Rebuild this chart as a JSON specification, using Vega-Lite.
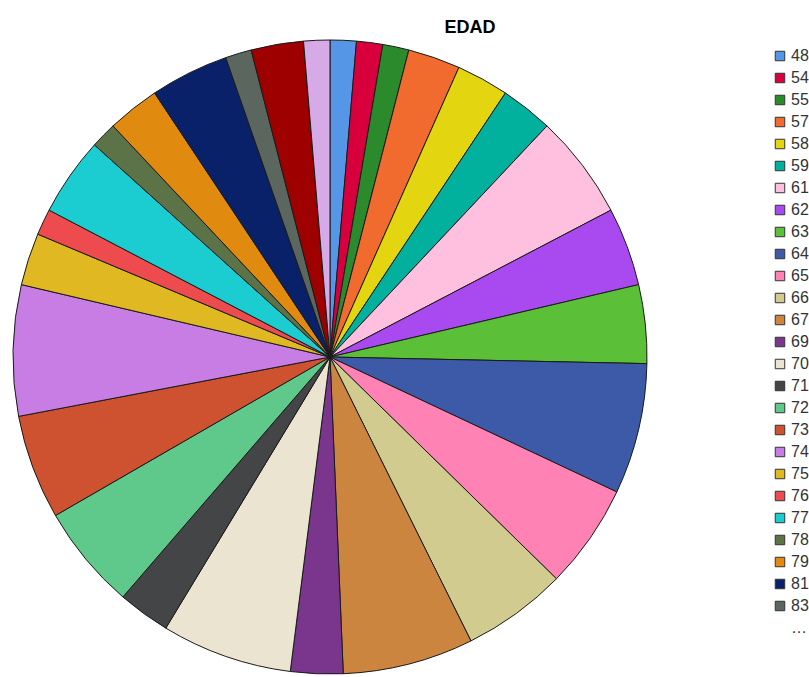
{
  "$schema": "https://vega.github.io/schema/vega-lite/v6.json",
  "width": 660,
  "height": 640,
  "autosize": {"type": "none"},
  "padding": {"left": 0, "top": 37, "right": 149, "bottom": 0},
  "background": "white",
  "title": {
    "text": "EDAD",
    "anchor": "middle",
    "frame": "group",
    "dx": 140,
    "offset": -14,
    "baseline": "alphabetic",
    "font": "Liberation Sans",
    "fontSize": 18,
    "fontWeight": "bold",
    "color": "#000000"
  },
  "data": {
    "values": [
      {"edad": "48", "n": 1},
      {"edad": "54", "n": 1},
      {"edad": "55", "n": 1},
      {"edad": "57", "n": 2},
      {"edad": "58", "n": 2},
      {"edad": "59", "n": 2},
      {"edad": "61", "n": 4},
      {"edad": "62", "n": 3},
      {"edad": "63", "n": 3},
      {"edad": "64", "n": 5},
      {"edad": "65", "n": 4},
      {"edad": "66", "n": 4},
      {"edad": "67", "n": 5},
      {"edad": "69", "n": 2},
      {"edad": "70", "n": 5},
      {"edad": "71", "n": 2},
      {"edad": "72", "n": 4},
      {"edad": "73", "n": 4},
      {"edad": "74", "n": 5},
      {"edad": "75", "n": 2},
      {"edad": "76", "n": 1},
      {"edad": "77", "n": 3},
      {"edad": "78", "n": 1},
      {"edad": "79", "n": 2},
      {"edad": "81", "n": 3},
      {"edad": "83", "n": 1},
      {"edad": "84", "n": 2},
      {"edad": "85", "n": 1}
    ]
  },
  "mark": {"type": "arc", "outerRadius": 317, "stroke": "#1a1a1a", "strokeWidth": 1},
  "encoding": {
    "theta": {"field": "n", "type": "quantitative", "stack": true},
    "order": {"field": "edad", "type": "nominal", "sort": "ascending"},
    "color": {
      "field": "edad",
      "type": "nominal",
      "scale": {
        "domain": ["48","54","55","57","58","59","61","62","63","64","65","66","67","69","70","71","72","73","74","75","76","77","78","79","81","83","84","85"],
        "range": ["#5596e6","#d7003c","#2b8a2b","#f26b2e","#e3d510","#01b09d","#ffc0e0","#a84af0","#5cbf38","#3c5aa8","#ff82b4","#d2cb8f","#cc853f","#7a368d","#ebe4d0","#444546","#5ec98b","#cf5230","#c87de4","#e0b822","#ee4b4f","#1bcdd0","#5c7247","#e08a10","#082168","#5a665e","#9e0000","#d5aae6"]
      },
      "legend": {
        "title": null,
        "orient": "none",
        "legendX": 772,
        "legendY": 11,
        "values": ["48","54","55","57","58","59","61","62","63","64","65","66","67","69","70","71","72","73","74","75","76","77","78","79","81","83","84"],
        "labelExpr": "datum.label == '84' ? '…' : datum.label",
        "symbolType": "square",
        "symbolSize": 90,
        "symbolStrokeColor": "#333333",
        "symbolStrokeWidth": 1,
        "labelFont": "Liberation Sans",
        "labelFontSize": 16,
        "labelColor": "#333333",
        "labelOffset": 3,
        "rowPadding": 6,
        "encode": {
          "symbols": {"update": {"opacity": {"signal": "datum.value === '84' ? 0 : 1"}}}
        }
      }
    }
  },
  "config": {"view": {"stroke": null}}
}
